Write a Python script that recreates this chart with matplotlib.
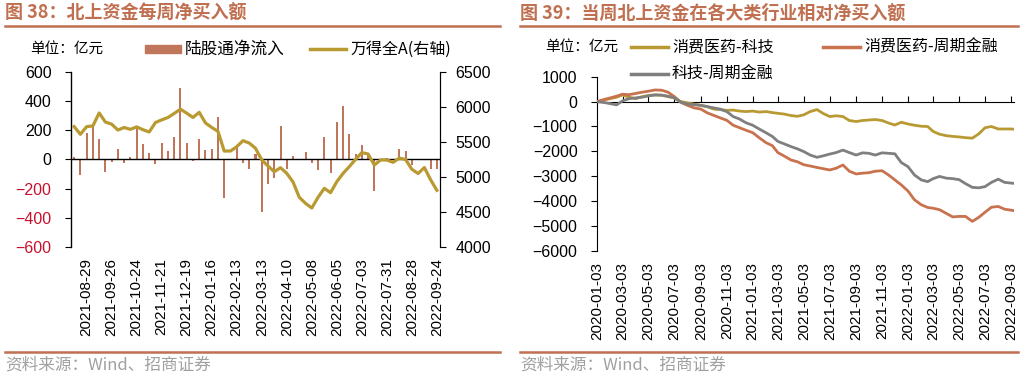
import matplotlib
matplotlib.use('Agg')
from matplotlib import pyplot as plt
import numpy as np
import pandas as pd

plt.rcParams['font.family'] = ['Liberation Sans', 'Noto Sans CJK SC', 'DejaVu Sans']
CJK = ['Noto Sans CJK SC', 'DejaVu Sans']

# ---- 图38: weekly net inflow (bars) and Wind All A (line, right axis)
flow = [15, -105, 183, 243, 142, -87, -18, 71, -27, 16,
        223, 105, 43, -30, 114, 57, 151, 489, 116, -10,
        143, 62, 73, 291, -263, 3, 100, -23, -66, 40,
        -363, -169, -128, 229, -66, 27, 2, 50, -24, -71,
        151, -96, 254, 370, 176, 41, 101, 46, -219, 5,
        9, 3, 75, 59, -39, 3, 0, -62, -62]
wind_a = [5720, 5610, 5719, 5730, 5915, 5785, 5755, 5671, 5707, 5681,
          5716, 5676, 5643, 5778, 5816, 5850, 5908, 5969, 5912, 5850,
          5924, 5772, 5708, 5652, 5371, 5371, 5433, 5519, 5485, 5410,
          5243, 5157, 5076, 5133, 5052, 4929, 4710, 4624, 4557, 4710,
          4838, 4776, 4933, 5052, 5148, 5252, 5348, 5329, 5171, 5243,
          5243, 5210, 5270, 5250, 5110, 5050, 5135, 4960, 4810]
week_labels = ['2021-08-29', '2021-09-26', '2021-10-24', '2021-11-21',
               '2021-12-19', '2022-01-16', '2022-02-13', '2022-03-13',
               '2022-04-10', '2022-05-08', '2022-06-05', '2022-07-03',
               '2022-07-31', '2022-08-28', '2022-09-24']

# ---- 图39: cumulative relative net buying, read twice a month
dates = [f'{y}-{m:02d}-{dd:02d}' for y in (2020, 2021, 2022)
         for m in range(1, 13) for dd in (3, 18)
         if (y, m) <= (2022, 8) or (y, m, dd) == (2022, 9, 3)] + ['2022-09-09']
cons_tech = [0, 60, 120, 180, 270, 180, 120, 200, 250, 270, 260, 200,
             150, 0, -50, -100, -150, -200, -300, -320, -350, -340, -380, -400,
             -380, -420, -400, -440, -470, -500, -560, -590, -530, -400, -320, -480,
             -600, -570, -600, -760, -800, -760, -740, -720, -760, -860, -940, -830,
             -900, -950, -990, -1000, -1200, -1310, -1370, -1400, -1420, -1450,
             -1470, -1300, -1050, -1000, -1100, -1100, -1100, -1110]
cons_cyc = [0, 80, 150, 220, 300, 280, 330, 380, 420, 470, 460, 380,
            200, -30, -150, -250, -300, -450, -550, -650, -750, -950, -1050, -1150,
            -1250, -1450, -1650, -1770, -2050, -2190, -2350, -2420, -2540, -2590, -2650, -2700,
            -2750, -2680, -2550, -2800, -2910, -2880, -2860, -2800, -2780, -2950, -3150, -3350,
            -3600, -3950, -4150, -4260, -4290, -4350, -4500, -4640, -4620, -4620,
            -4820, -4660, -4450, -4250, -4220, -4330, -4370, -4390]
tech_cyc = [0, -30, -80, -130, 30, 120, 150, 180, 230, 270, 260, 220,
            150, -20, -100, -120, -150, -200, -250, -300, -400, -600, -700, -850,
            -950, -1100, -1250, -1400, -1600, -1700, -1810, -1900, -2010, -2150, -2240, -2180,
            -2110, -2050, -1950, -2050, -2150, -2060, -2080, -2150, -2060, -2080, -2100, -2450,
            -2620, -2950, -3150, -3220, -3100, -3010, -3080, -3100, -3140, -3300,
            -3450, -3470, -3420, -3250, -3120, -3250, -3280, -3290]
month_ticks = ['2020-01-03', '2020-03-03', '2020-05-03', '2020-07-03',
               '2020-09-03', '2020-11-03', '2021-01-03', '2021-03-03',
               '2021-05-03', '2021-07-03', '2021-09-03', '2021-11-03',
               '2022-01-03', '2022-03-03', '2022-05-03', '2022-07-03',
               '2022-09-03']

BROWN = '#C0765A'
GOLD = '#B99A32'
ORANGE = '#C8724E'
GREY = '#7F7F7F'
RED = '#C8102E'
TITLE = '#C07050'

W, H = 1023, 377
fig = plt.figure(figsize=(W / 100, H / 100), dpi=100)


def px(x0, y0, x1, y1):
    return [x0 / W, 1 - y1 / H, (x1 - x0) / W, (y1 - y0) / H]


def frame(xa, xb, title):
    fig.text(xa / W, 1 - 13 / H, title, family=CJK, fontsize=13,
             fontweight='bold', color=TITLE, va='center')
    fig.add_artist(plt.Line2D([xa / W, xb / W], [1 - 26 / H] * 2,
                              color=TITLE, lw=1.8))
    fig.add_artist(plt.Line2D([xa / W, xb / W], [1 - 352 / H] * 2,
                              color=TITLE, lw=1.8))
    fig.text(xa / W, 1 - 365 / H, '资料来源：Wind、招商证券', family=CJK,
             fontsize=12, color='#A0A0A0', va='center')


# ---------------- left chart
frame(5, 500, '图 38：北上资金每周净买入额')
ax = fig.add_axes(px(71, 72, 440, 247))
n = len(flow)
idx = np.arange(n)
ax.bar(idx, flow, width=0.32, color=BROWN, zorder=2)
ax.axhline(0, color='black', lw=1, zorder=3)
ax.set_xlim(-0.5, n - 0.5)
ax.set_ylim(-600, 600)
ax.set_yticks(np.arange(-600, 601, 200))
for sp in ['top', 'bottom']:
    ax.spines[sp].set_visible(False)
ax.spines['left'].set_linewidth(1)
ax.tick_params(axis='y', length=4, labelsize=11.5, pad=10)
for lab, v in zip(ax.get_yticklabels(), np.arange(-600, 601, 200)):
    lab.set_color(RED if v < 0 else 'black')
ax.set_xticks(np.arange(2, n, 4))
ax.set_xticklabels(week_labels, rotation=90, fontsize=11)
ax.tick_params(axis='x', length=0, pad=8)

ax2 = ax.twinx()
ax2.plot(idx, wind_a, color=GOLD, lw=2.3, zorder=4)
ax2.set_ylim(4000, 6500)
ax2.set_yticks(np.arange(4000, 6501, 500))
for sp in ['top', 'bottom', 'left']:
    ax2.spines[sp].set_visible(False)
ax2.tick_params(axis='y', length=4, labelsize=11.5, pad=7)

fig.text(30 / W, 1 - 49 / H, '单位：亿元', family=CJK, fontsize=10.5, va='center')
fig.patches.append(plt.Rectangle((145 / W, 1 - 53 / H), 36 / W, 8 / H,
                                 transform=fig.transFigure, color=BROWN))
fig.text(185 / W, 1 - 49 / H, '陆股通净流入', family=CJK, fontsize=12, va='center')
fig.add_artist(plt.Line2D([310 / W, 346 / W], [1 - 49 / H] * 2, color=GOLD, lw=2.5))
fig.text(350 / W, 1 - 49 / H, '万得全A(右轴)', family=CJK, fontsize=11.5, va='center')

# ---------------- right chart
frame(520, 1018, '图 39：当周北上资金在各大类行业相对净买入额')
bx = fig.add_axes(px(597, 76.8, 1014, 250.7))
d = pd.to_datetime(dates)
bx.plot(d, cons_tech, color=GOLD, lw=2, zorder=3)
bx.plot(d, cons_cyc, color=ORANGE, lw=2, zorder=3)
bx.plot(d, tech_cyc, color=GREY, lw=2, zorder=4)
bx.set_ylim(-6000, 1000)
bx.set_yticks(np.arange(-6000, 1001, 1000))
bx.set_xlim(d[0], d[-1])
for sp in ['top', 'bottom', 'right']:
    bx.spines[sp].set_visible(False)
bx.tick_params(axis='y', length=4, labelsize=11.5, pad=10)
mt = pd.to_datetime(month_ticks)
bx.set_xticks(mt)
bx.set_xticklabels(month_ticks, rotation=90, fontsize=11)
bx.tick_params(axis='x', length=0, pad=8)

zero = bx.secondary_xaxis(6 / 7)
zero.set_xticks(mt)
zero.set_xticklabels([])
zero.tick_params(axis='x', direction='out', length=4)
zero.spines['bottom'].set_linewidth(1)

fig.text(545 / W, 1 - 47 / H, '单位：亿元', family=CJK, fontsize=10.5, va='center')
fig.add_artist(plt.Line2D([631 / W, 668 / W], [1 - 47 / H] * 2, color=GOLD, lw=2.5))
fig.text(672 / W, 1 - 47 / H, '消费医药-科技', family=CJK, fontsize=11.5, va='center')
fig.add_artist(plt.Line2D([823 / W, 860 / W], [1 - 47 / H] * 2, color=ORANGE, lw=2.5))
fig.text(864 / W, 1 - 47 / H, '消费医药-周期金融', family=CJK, fontsize=11.5, va='center')
fig.add_artist(plt.Line2D([631 / W, 668 / W], [1 - 74 / H] * 2, color=GREY, lw=2.5))
fig.text(672 / W, 1 - 74 / H, '科技-周期金融', family=CJK, fontsize=11.5, va='center')

fig.savefig('out.png', dpi=100)
